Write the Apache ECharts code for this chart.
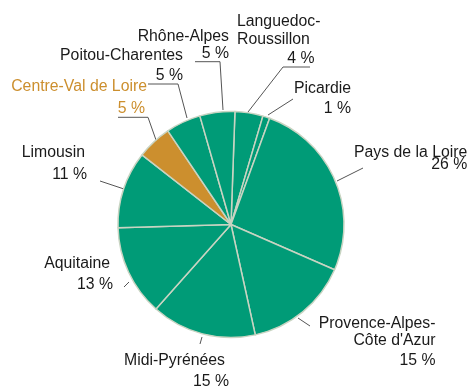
<!DOCTYPE html>
<html>
<head>
<meta charset="utf-8">
<script src="https://cdn.jsdelivr.net/npm/echarts@6/dist/echarts.min.js"></script>
<style>
  html, body { margin: 0; padding: 0; background: #fff; }
  #chart { width: 474px; height: 386px; }
</style>
</head>
<body>
<div id="chart"></div>
<script>
// Regions in clockwise order, starting just right of twelve o'clock
const regions = [
  'Languedoc-Roussillon', 'Picardie', 'Pays de la Loire',
  'Provence-Alpes-Côte d\'Azur', 'Midi-Pyrénées', 'Aquitaine',
  'Limousin', 'Centre-Val de Loire', 'Poitou-Charentes', 'Rhône-Alpes'
];
// Share of each region, in percent
const shares = [4, 1, 26, 15, 15, 13, 11, 5, 5, 5];
const highlighted = 'Centre-Val de Loire';

const GREEN = '#009b77';
const ORANGE = '#cc8f2e';
const INK = '#1a1a1a';
const EDGE = '#c8d4c2';
const GUIDE = '#555555';
const FONT = { fontFamily: 'Liberation Sans, Arial, sans-serif', fontSize: 15.8 };

// Label blocks: anchor x, top y, block alignment, line heights, paddings and guide polyline
const placement = [
  { x: 237,   y: 12.5,  align: 'left',  nameAlign: 'left',  valueAlign: 'right', nameLH: 18,   valueLH: 20,   namePad: 0, valuePad: 6,
    guide: [[248, 112], [283, 67], [310, 67]] },
  { x: 294,   y: 78.5,  align: 'left',  nameAlign: 'left',  valueAlign: 'right', nameLH: 20,   valueLH: 20,   namePad: 0, valuePad: 0,
    guide: [[268, 115], [293, 99]] },
  { x: 354,   y: 145.7, align: 'left',  nameAlign: 'left',  valueAlign: 'right', nameLH: 13,   valueLH: 12.6, namePad: 0, valuePad: 0,
    guide: [[337, 181], [363, 168]] },
  { x: 435.5, y: 314.5, align: 'right', nameAlign: 'right', valueAlign: 'right', nameLH: 17.3, valueLH: 22.8, namePad: 0, valuePad: 0,
    guide: [[298, 318], [310, 326]] },
  { x: 229,   y: 350,   align: 'right', nameAlign: 'right', valueAlign: 'right', nameLH: 21,   valueLH: 21,   namePad: 4, valuePad: 0,
    guide: [[202, 337], [200, 344]] },
  { x: 113,   y: 252.7, align: 'right', nameAlign: 'right', valueAlign: 'right', nameLH: 21,   valueLH: 21,   namePad: 3, valuePad: 0,
    guide: [[129, 282], [124, 287]] },
  { x: 87,    y: 141.2, align: 'right', nameAlign: 'right', valueAlign: 'right', nameLH: 22,   valueLH: 22,   namePad: 2, valuePad: 0,
    guide: [[124, 189], [100, 181]] },
  { x: 147,   y: 75.5,  align: 'right', nameAlign: 'right', valueAlign: 'right', nameLH: 22,   valueLH: 22.6, namePad: 0, valuePad: 2,
    guide: [[156, 140], [148, 117.3], [118, 117.3]] },
  { x: 183,   y: 45.8,  align: 'right', nameAlign: 'right', valueAlign: 'right', nameLH: 20,   valueLH: 20,   namePad: 0, valuePad: 0,
    guide: [[187, 118], [178, 84], [148, 84]] },
  { x: 229,   y: 27.9,  align: 'right', nameAlign: 'right', valueAlign: 'right', nameLH: 17.3, valueLH: 17.3, namePad: 0, valuePad: 0,
    guide: [[223, 110], [220, 61.7], [195, 61.7]] }
];

// Long names break after their last hyphen
function wrapName(name) {
  if (name.length > 19) {
    const i = name.lastIndexOf('-');
    return name.slice(0, i + 1) + '\n' + name.slice(i + 1);
  }
  return name;
}

const data = regions.map(function (name, i) {
  const p = placement[i];
  const isHi = name === highlighted;
  const textColor = isHi ? ORANGE : INK;
  return {
    name: name,
    value: shares[i],
    itemStyle: { color: isHi ? ORANGE : GREEN },
    label: {
      formatter: '{n|' + wrapName(name) + '}\n{v|' + shares[i] + ' %}',
      rich: {
        n: Object.assign({ align: p.nameAlign, lineHeight: p.nameLH, padding: [0, p.namePad, 0, 0], color: textColor }, FONT),
        v: Object.assign({ align: p.valueAlign, lineHeight: p.valueLH, padding: [0, p.valuePad, 0, 0], color: textColor }, FONT)
      }
    }
  };
});

const chart = echarts.init(document.getElementById('chart'), null, { renderer: 'canvas' });
chart.setOption({
  animation: false,
  backgroundColor: '#ffffff',
  series: [{
    type: 'pie',
    center: [231, 224.5],
    radius: 113,
    startAngle: 88,
    clockwise: true,
    avoidLabelOverlap: false,
    itemStyle: { borderColor: EDGE, borderWidth: 1.5 },
    emphasis: { disabled: true },
    label: Object.assign({ show: true, position: 'outside', color: INK }, FONT),
    labelLine: { show: true, length: 10, length2: 10, smooth: false, lineStyle: { color: GUIDE, width: 1 } },
    labelLayout: function (params) {
      const p = placement[params.dataIndex];
      return { x: p.x, y: p.y, align: p.align, verticalAlign: 'top', labelLinePoints: p.guide };
    },
    data: data
  }]
});
</script>
</body>
</html>
